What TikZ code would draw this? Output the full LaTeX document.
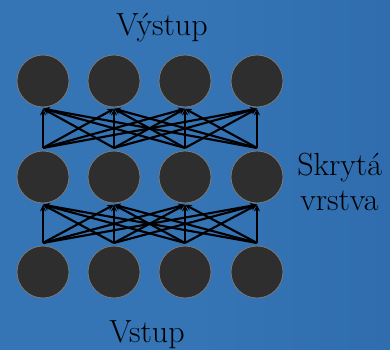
\documentclass[tikz,border=0pt]{standalone}
\usepackage{fontspec}
\usetikzlibrary{arrows.meta}
\definecolor{bgblue}{HTML}{3574B5}
\definecolor{bgblueB}{HTML}{2F6DAF}
\definecolor{neuron}{HTML}{2E2E2E}
\definecolor{rim}{HTML}{7A7A7A}
\tikzset{
  neu/.style={circle,fill=neuron,draw=rim,line width=0.6pt,minimum size=52*0.75pt,inner sep=0pt},
  conn/.style={line width=1.6pt,black,-{Stealth[length=5pt,width=4.5pt]}},
  lbl/.style={font=\rmfamily\fontsize{24}{27}\selectfont,text=black,inner sep=0pt},
}
\begin{document}
\begin{tikzpicture}[x=0.75pt,y=-0.75pt]
\shade[left color=bgblue,right color=bgblueB,middle color=bgblue] (0,0) rectangle (390,350);
\useasboundingbox (0,0) rectangle (390,350);
\foreach \i/\x in {1/43,2/114,3/185,4/257}{
  \node[neu] (o\i) at (\x,81) {};
  \node[neu] (h\i) at (\x,177) {};
  \node[neu] (b\i) at (\x,272) {};
}
\foreach \i in {1,...,4}{
  \foreach \j in {1,...,4}{
    \draw[conn] ([yshift=2pt]b\i.north) -- ([yshift=-1pt]h\j.south);
    \draw[conn] ([yshift=2pt]h\i.north) -- ([yshift=-1pt]o\j.south);
  }
}
\node[lbl,anchor=base] (out) at (162,35) {Výstup};
\node[lbl,anchor=base] (in) at (147,342) {Vstup};
\node[lbl,anchor=base west] (hid1) at (297,175) {Skrytá};
\node[lbl,anchor=base west] (hid2) at (300,210) {vrstva};
\end{tikzpicture}
\end{document}
